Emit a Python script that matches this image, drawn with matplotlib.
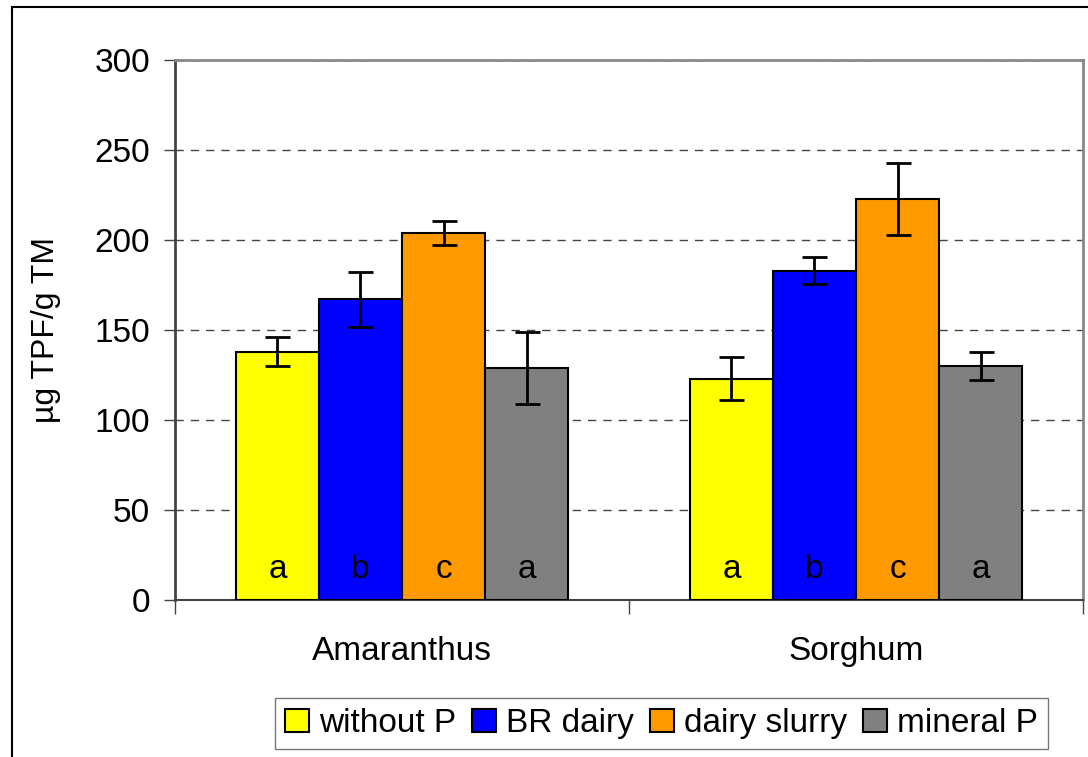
import matplotlib
matplotlib.use("Agg")
import matplotlib.pyplot as plt
import numpy as np
from matplotlib.patches import Rectangle, Patch

plt.rcParams['font.family'] = ['Liberation Sans', 'DejaVu Sans']

categories = ["Amaranthus", "Sorghum"]
series = ["without P", "BR dairy", "dairy slurry", "mineral P"]
colors = ["#FFFF00", "#0000FF", "#FF9900", "#808080"]
values = {
    "without P": [138, 123],
    "BR dairy": [167, 183],
    "dairy slurry": [204, 223],
    "mineral P": [129, 130],
}
errors = {
    "without P": [8, 12],
    "BR dairy": [15.5, 7.5],
    "dairy slurry": [6.5, 20],
    "mineral P": [20, 8],
}
letters = {
    "without P": ["a", "a"],
    "BR dairy": ["b", "b"],
    "dairy slurry": ["c", "c"],
    "mineral P": ["a", "a"],
}
yticks = [0, 50, 100, 150, 200, 250, 300]

fs = 24

fig = plt.figure(figsize=(10.88, 7.57), dpi=100)
ax = fig.add_axes([175/1088, 1-600/757, (1083-175)/1088, (600-60)/757])

x = np.arange(len(categories))
w = 0.183
for i, s in enumerate(series):
    pos = x + (i - 1.5) * w
    ax.bar(pos, values[s], width=w, color=colors[i], edgecolor="black", linewidth=1.5, zorder=3)
    ax.errorbar(pos, values[s], yerr=errors[s], fmt="none", ecolor="black",
                elinewidth=2, capsize=9, capthick=2, zorder=4)
    for p, t in zip(pos, letters[s]):
        ax.text(p, 17, t, ha="center", va="center", fontsize=fs, zorder=5)

ax.set_xlim(-0.5, 1.5)
ax.set_ylim(0, 300)
ax.set_yticks(yticks)
ax.set_yticklabels([str(t) for t in yticks], fontsize=fs)
ax.yaxis.grid(True, linestyle=(0, (6, 5)), color="#444444", linewidth=1, zorder=0)
ax.set_axisbelow(True)
ax.set_xticks([-0.5, 0.5, 1.5])
ax.set_xticklabels([])
ax.set_xticks(x, minor=True)
ax.set_xticklabels(categories, minor=True, fontsize=fs)
ax.tick_params(axis="x", which="minor", length=0, pad=26)
ax.tick_params(axis="x", which="major", length=10, width=1, color="#444444")
ax.tick_params(axis="y", length=8, width=1, color="#444444", pad=10)
for sp in ["top", "right"]:
    ax.spines[sp].set_color("#888888")
    ax.spines[sp].set_linewidth(2)
ax.spines["left"].set_color("#444444")
ax.spines["left"].set_linewidth(2)
ax.spines["bottom"].set_color("#444444")
ax.spines["bottom"].set_linewidth(1.5)

ax.set_ylabel("µg TPF/g TM", fontsize=23, labelpad=24)

handles = [Patch(facecolor=c, edgecolor="black", linewidth=1.5) for c in colors]
leg = fig.legend(handles, series, loc="center",
                 bbox_to_anchor=((278+1045)/2/1088, 1-(695+752)/2/757),
                 ncol=4, fontsize=fs, frameon=True, fancybox=False,
                 edgecolor="#555555", handlelength=0.7, handleheight=0.7,
                 handletextpad=0.3, columnspacing=0.5, borderpad=0.3)
leg.get_frame().set_linewidth(1)

fig.patches.append(Rectangle((12/1088, -0.1), 1.2, 1-7/757+0.1, transform=fig.transFigure,
                             fill=False, edgecolor="black", linewidth=1.5))

fig.savefig("out.png", dpi=100)
